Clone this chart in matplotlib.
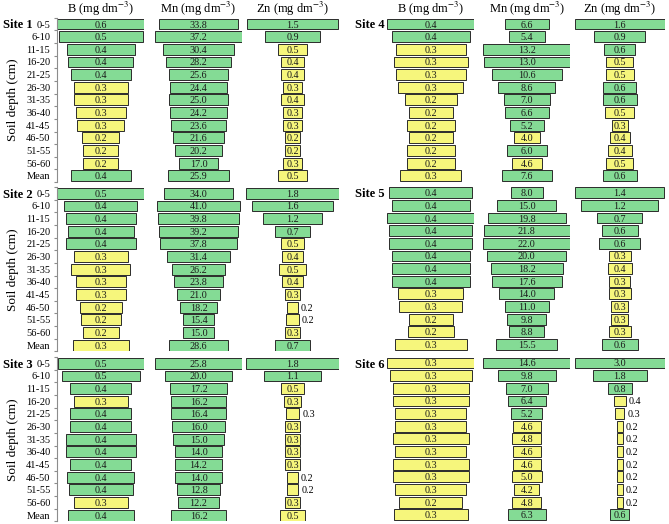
import numpy as np
import matplotlib.pyplot as plt

plt.rcParams['font.family'] = ['Liberation Serif', 'DejaVu Serif']
plt.rcParams['mathtext.fontset'] = 'stix'

depths = ['0-5', '6-10', '11-15', '16-20', '21-25', '26-30', '31-35',
          '36-40', '41-45', '46-50', '51-55', '56-60', 'Mean']
sites = ['Site 1', 'Site 2', 'Site 3', 'Site 4', 'Site 5', 'Site 6']
elements = ['B', 'Mn', 'Zn']

b_vals = [
    [0.58, 0.50, 0.41, 0.39, 0.36, 0.32, 0.32, 0.30, 0.28, 0.22, 0.21, 0.21, 0.36],
    [0.50, 0.42, 0.40, 0.38, 0.40, 0.31, 0.34, 0.29, 0.29, 0.24, 0.23, 0.21, 0.32],
    [0.54, 0.49, 0.38, 0.34, 0.38, 0.38, 0.44, 0.44, 0.38, 0.42, 0.40, 0.34, 0.41],
    [0.40, 0.36, 0.32, 0.34, 0.32, 0.30, 0.24, 0.20, 0.22, 0.20, 0.22, 0.22, 0.28],
    [0.38, 0.36, 0.40, 0.38, 0.38, 0.36, 0.36, 0.36, 0.30, 0.29, 0.20, 0.21, 0.33],
    [0.33, 0.31, 0.29, 0.29, 0.27, 0.27, 0.29, 0.27, 0.29, 0.29, 0.27, 0.24, 0.28],
]
mn_vals = [
    [33.8, 37.2, 30.4, 28.2, 25.6, 24.4, 25.0, 24.2, 23.6, 21.6, 20.2, 17.0, 25.9],
    [34.0, 41.0, 39.8, 39.2, 37.8, 31.4, 26.2, 23.8, 21.0, 18.2, 15.4, 15.0, 28.6],
    [25.8, 20.0, 17.2, 16.2, 16.4, 16.0, 15.0, 14.0, 14.2, 14.0, 12.8, 12.2, 16.2],
    [6.6, 5.4, 13.2, 13.0, 10.6, 8.6, 7.0, 6.6, 5.2, 4.0, 6.0, 4.6, 7.6],
    [8.0, 15.0, 19.8, 21.8, 22.0, 20.0, 18.2, 17.6, 14.0, 11.0, 9.8, 8.8, 15.5],
    [14.6, 9.8, 7.0, 6.4, 5.2, 4.6, 4.8, 4.6, 4.6, 5.0, 4.2, 4.8, 6.3],
]
zn_vals = [
    [1.50, 0.90, 0.46, 0.36, 0.36, 0.30, 0.38, 0.31, 0.31, 0.24, 0.23, 0.31, 0.47],
    [1.80, 1.58, 1.16, 0.67, 0.46, 0.39, 0.51, 0.39, 0.29, 0.21, 0.24, 0.30, 0.67],
    [1.80, 1.10, 0.46, 0.32, 0.26, 0.30, 0.30, 0.30, 0.30, 0.21, 0.23, 0.30, 0.47],
    [1.60, 0.90, 0.56, 0.48, 0.50, 0.59, 0.60, 0.51, 0.29, 0.36, 0.43, 0.47, 0.60],
    [1.40, 1.20, 0.70, 0.57, 0.64, 0.34, 0.38, 0.33, 0.34, 0.27, 0.27, 0.34, 0.57],
    [3.00, 1.80, 0.80, 0.40, 0.30, 0.20, 0.20, 0.20, 0.20, 0.20, 0.20, 0.20, 0.63],
]
# panel width in data units (per site)
b_span = [0.52, 0.50, 0.545, 0.40, 0.40, 0.33]
mn_span = [37.3, 42.8, 26.0, 13.2, 22.0, 14.6]
zn_span = [1.52, 1.81, 1.81, 1.60, 1.41, 3.00]
# sufficiency limits -> green, otherwise yellow
limits = {'B': 0.35, 'Mn': 5.05, 'Zn': 0.55}

GREEN = '#84DB95'
YELLOW = '#F6F67C'

W, H = 669, 524
fig = plt.figure(figsize=(W / 100, H / 100), dpi=100)


def px_axes(x0, x1, ytop, h):
    return fig.add_axes([x0 / W, 1 - (ytop + h) / H, (x1 - x0) / W, h / H])


pitch = 12.65
panels = [[(57.3, 144.3), (155, 242), (246, 339)],
          [(387.3, 474.3), (483.3, 570.3), (574.7, 664.7)]]
row0 = [[24, 193.3, 363.3], [24, 192.7, 363]]

data = {'B': (b_vals, b_span), 'Mn': (mn_vals, mn_span), 'Zn': (zn_vals, zn_span)}
y = np.arange(len(depths))

for s, site in enumerate(sites):
    col, r = s // 3, s % 3
    top = row0[col][r] - pitch / 2
    for e, el in enumerate(elements):
        vals, spans = data[el]
        v = np.array(vals[s])
        span = spans[s]
        x0, x1 = panels[col][e]
        ax = px_axes(x0, x1, top, pitch * len(depths))
        w = np.minimum(v, span)
        labels = [f'{t:.1f}' for t in v]
        colors = [GREEN if float(t) > limits[el] else YELLOW for t in labels]
        ax.barh(y, w, left=-w / 2, height=0.86, color=colors,
                edgecolor='#2b2b2b', linewidth=0.7)
        ax.set_xlim(-span / 2, span / 2)
        ax.set_ylim(len(depths) - 0.5, -0.5)
        for i, (wi, lab) in enumerate(zip(w, labels)):
            if wi / span < 0.148:
                ax.annotate(lab, (wi / 2, i), xytext=(2.2, 0),
                            textcoords='offset points', ha='left',
                            va='center_baseline', fontsize=7.3)
            else:
                ax.text(0, i, lab, ha='center', va='center_baseline',
                        fontsize=7.3, color='#1a1a1a')
        for sp in ax.spines.values():
            sp.set_visible(False)
        ax.set_xticks([])
        if col == 0 and e == 0:
            ax.spines['left'].set_visible(True)
            ax.spines['left'].set_color('#8c8c8c')
            ax.spines['left'].set_linewidth(0.8)
            ax.set_yticks(y)
            ax.set_yticklabels(depths, fontsize=7.5)
            ax.tick_params(axis='y', which='major', length=0, pad=5)
            ax.set_yticks(np.arange(-0.5, len(depths), 1), minor=True)
            ax.tick_params(axis='y', which='minor', length=2.5,
                           color='#8c8c8c', width=0.8)
            fig.text(13 / W, 1 - (top + pitch * len(depths) / 2) / H,
                     'Soil depth (cm)', rotation=90, ha='center',
                     va='center', fontsize=9.5)
        else:
            ax.set_yticks([])
        if r == 0:
            fig.text((x0 + x1) / 2 / W, 1 - 8.5 / H,
                     el + ' (mg dm$^{-3}$)', ha='center', va='center',
                     fontsize=9)
    xs = 3 if col == 0 else 355
    fig.text(xs / W, 1 - row0[col][r] / H, site, ha='left',
             va='center_baseline', fontsize=9, fontweight='bold')

fig.savefig('out.png', dpi=100)
